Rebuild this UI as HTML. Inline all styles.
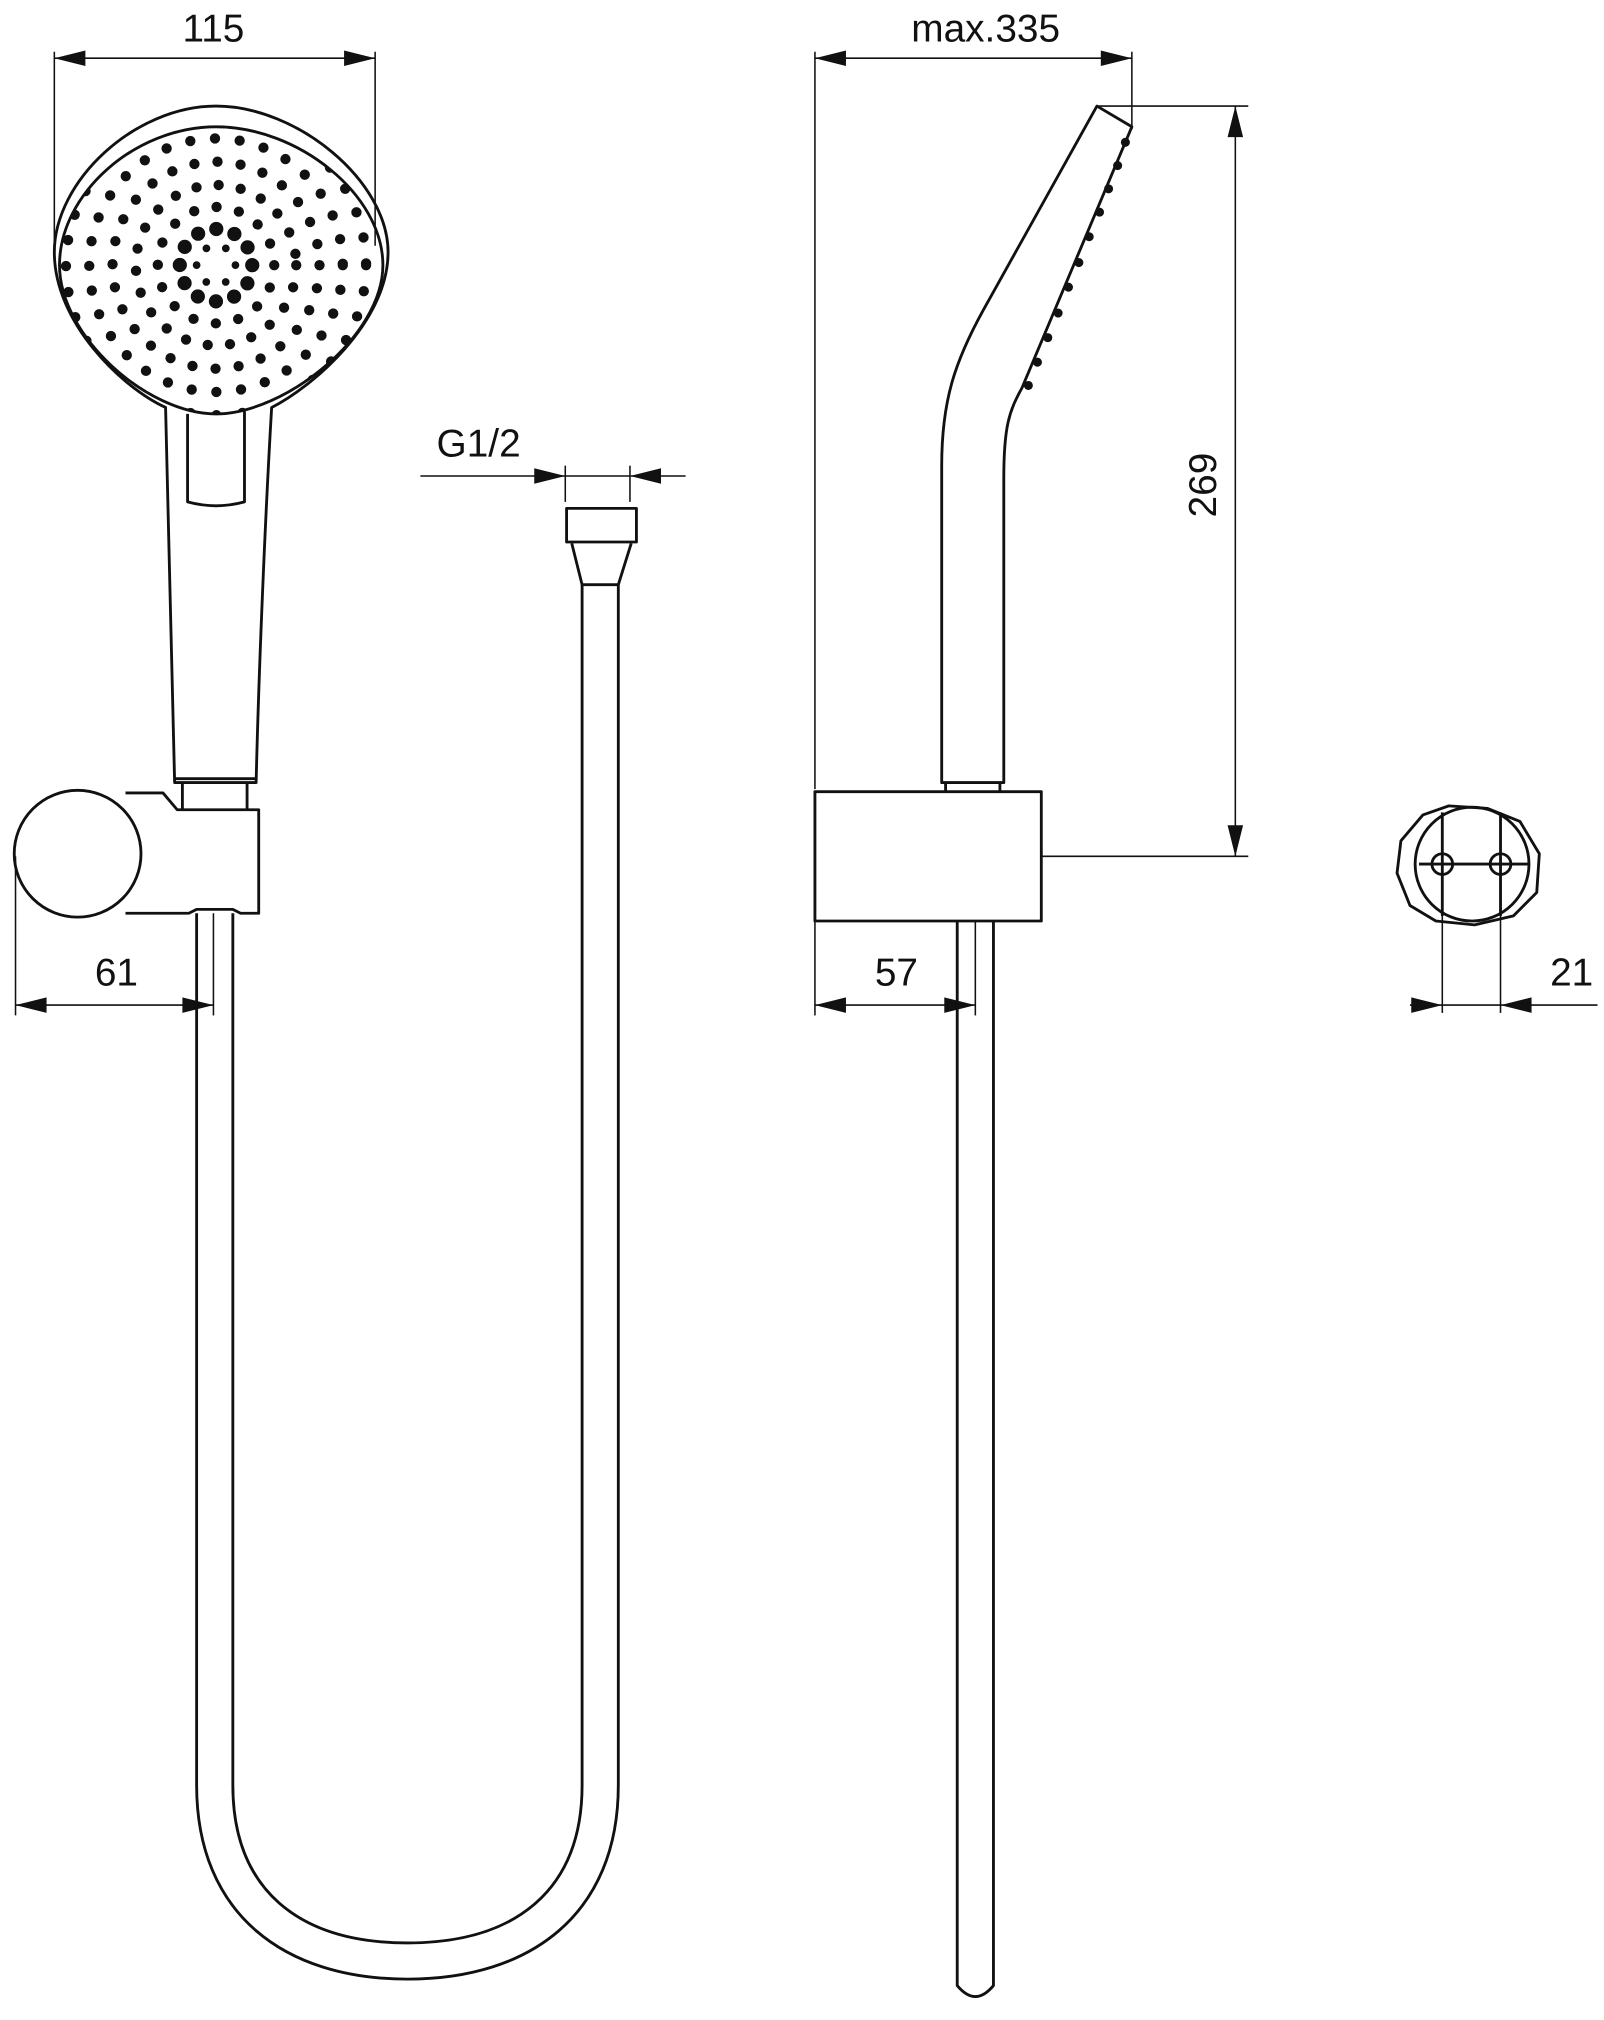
<!DOCTYPE html>
<html><head><meta charset="utf-8"><style>
html,body{margin:0;padding:0;background:#fff}
svg{display:block}
text{font-family:"Liberation Sans",sans-serif;fill:#111}
</style></head><body>
<svg width="1604" height="2020" viewBox="0 0 1240 1561.6" xmlns="http://www.w3.org/2000/svg">
<defs>
<clipPath id="hc"><path d="M167,98 C230,98 296,150 296,205 C296,260 220,320 167,320 C114,320 46,260 46,205 C46,150 104,98 167,98Z"/></clipPath>
</defs>
<g fill="none" stroke="#111" stroke-width="1.2">
<line x1="42" y1="40" x2="42" y2="190"/><line x1="290" y1="40" x2="290" y2="190"/>
<line x1="42" y1="45" x2="290" y2="45"/>
<line x1="630" y1="40" x2="630" y2="610"/><line x1="875" y1="40" x2="875" y2="100"/>
<line x1="630" y1="45" x2="875" y2="45"/>
<line x1="848" y1="82" x2="965" y2="82"/><line x1="805" y1="662" x2="965" y2="662"/>
<line x1="955" y1="82" x2="955" y2="662"/>
<line x1="325" y1="368" x2="530" y2="368"/>
<line x1="437" y1="360" x2="437" y2="388"/><line x1="487" y1="360" x2="487" y2="388"/>
<line x1="12" y1="662" x2="12" y2="785"/><line x1="12" y1="777" x2="165" y2="777"/>
<line x1="165" y1="706" x2="165" y2="785"/>
<line x1="630" y1="712" x2="630" y2="785"/><line x1="630" y1="777" x2="754" y2="777"/>
<line x1="754" y1="712" x2="754" y2="785"/>
<line x1="1115" y1="670" x2="1115" y2="783"/><line x1="1160" y1="670" x2="1160" y2="783"/>
<line x1="1090" y1="777" x2="1235" y2="777"/>
</g>
<g fill="#111">
<polygon points="42,45 66,39 66,51"/><polygon points="290,45 266,39 266,51"/>
<polygon points="630,45 654,39 654,51"/><polygon points="875,45 851,39 851,51"/>
<polygon points="955,82 949,106 961,106"/><polygon points="955,662 949,638 961,638"/>
<polygon points="437,368 413,362 413,374"/><polygon points="487,368 511,362 511,374"/>
<polygon points="12,777 36,771 36,783"/><polygon points="165,777 141,771 141,783"/>
<polygon points="630,777 654,771 654,783"/><polygon points="754,777 730,771 730,783"/>
<polygon points="1115,777 1091,771 1091,783"/><polygon points="1160,777 1184,771 1184,783"/>
</g>
<text x="165" y="32" font-size="30" text-anchor="middle">115</text>
<text x="762" y="32" font-size="30" text-anchor="middle">max.335</text>
<text x="370" y="353" font-size="30" text-anchor="middle">G1/2</text>
<text x="90" y="762" font-size="30" text-anchor="middle">61</text>
<text x="693" y="762" font-size="30" text-anchor="middle">57</text>
<text x="1215" y="762" font-size="30" text-anchor="middle">21</text>
<text transform="translate(940,375) rotate(-90)" font-size="30" text-anchor="middle">269</text>

<g fill="none" stroke="#111" stroke-width="2.2" stroke-linejoin="round">
<path d="M167,82 C230,82 300,140 300,195 C300,250 240,300 210,315 C205,400 200,520 198,605 L135,605 C133,520 130,400 128,315 C95,300 42,250 42,195 C42,140 104,82 167,82Z"/>
<path d="M167,98 C230,98 296,150 296,205 C296,260 220,320 167,320 C114,320 46,260 46,205 C46,150 104,98 167,98Z"/>
<path d="M145,320 L145,388 Q167,394 189,388 L189,318"/>
<path d="M141,605 L141,626 M191,605 L191,626 M135,602 L198,602"/>
<path d="M97,613 L126,613 L137,626 L200,626 L200,706 L186,706 L180,703 L152,703 L146,706 L97,706"/>
<circle cx="60" cy="660" r="49"/>
<path d="M152,706 L152,1380 C152,1480 220,1530 315,1530 C410,1530 478,1480 478,1380 L478,452"/>
<path d="M180,706 L180,1380 C180,1460 230,1502 315,1502 C400,1502 450,1460 450,1380 L450,452"/>
<rect x="438" y="393" width="54" height="26"/>
<path d="M442,420 L450,452 L478,452 L488,420"/>
<!-- side view -->
<path d="M728,605 L728,360 C728,310 738,280 760,240 L848,82 L875,98 L790,300 C780,318 776,330 776,370 L776,605Z"/>
<path d="M731,605 L731,612 M773,605 L773,612"/>
<rect x="630" y="612" width="175" height="100"/>
<path d="M740,712 L740,1535 Q754,1552 768,1535 L768,712"/>
<path d="M1100,630 L1120,623 L1150,625 L1175,635 L1190,660 L1188,690 L1170,708 L1140,715 L1110,712 L1090,700 L1080,675 L1083,650Z"/>
<circle cx="1138" cy="668" r="44"/>
<circle cx="1115" cy="668" r="8"/><circle cx="1160" cy="668" r="8"/>
<path d="M1115,628 L1115,708 M1160,628 L1160,708 M1097,668 L1181,668"/>
</g>
<g clip-path="url(#hc)" fill="none" stroke="#111" stroke-linecap="round">
<circle cx="167" cy="205" r="15" stroke-width="6" stroke-dasharray="0 15.7"/>
<circle cx="167" cy="205" r="28" stroke-width="11" stroke-dasharray="0 14.66"/>
<circle cx="167" cy="205" r="45" stroke-width="8" stroke-dasharray="0 17.7"/>
<circle cx="167" cy="205" r="62" stroke-width="8" stroke-dasharray="0 17.3"/>
<circle cx="167" cy="205" r="80" stroke-width="8" stroke-dasharray="0 18"/>
<circle cx="167" cy="205" r="98" stroke-width="8" stroke-dasharray="0 19.2"/>
<circle cx="167" cy="205" r="116" stroke-width="8" stroke-dasharray="0 20.2"/>
</g>
<g fill="#111">
<circle cx="870" cy="110" r="3.5"/><circle cx="864" cy="128" r="3.5"/><circle cx="857" cy="146" r="3.5"/>
<circle cx="850" cy="164" r="3.5"/><circle cx="842" cy="183" r="3.5"/><circle cx="834" cy="203" r="3.5"/>
<circle cx="826" cy="222" r="3.5"/><circle cx="818" cy="242" r="3.5"/><circle cx="810" cy="261" r="3.5"/>
<circle cx="802" cy="280" r="3.5"/><circle cx="795" cy="298" r="3.5"/>
</g>
</svg>
</body></html>
